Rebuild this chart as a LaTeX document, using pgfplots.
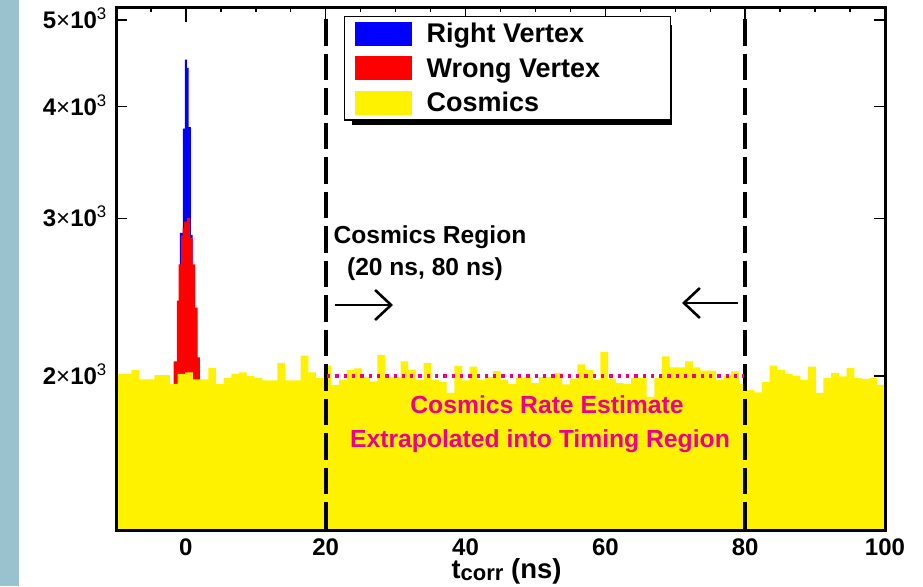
\documentclass[border=0pt]{standalone}
\usepackage{fontspec}
\setmainfont{Liberation Sans}
\usepackage{pgfplots}
\pgfplotsset{compat=1.18}
\usetikzlibrary{arrows.meta}
\definecolor{strip}{RGB}{153,194,206}
\definecolor{cyanline}{RGB}{30,200,200}
\newcommand{\legtext}[1]{\makebox[242pt][l]{\smash{#1}\rule{0pt}{19.4pt}}}
\begin{document}
\begin{tikzpicture}
\useasboundingbox (0,0) rectangle (923pt,586pt);
\fill[white] (0,0) rectangle (923pt,586pt);
\fill[strip] (0,0) rectangle (19pt,586pt);
% axis A: x ticks, x tick labels, x label
\begin{axis}[
  at={(116pt,55pt)}, anchor=south west,
  scale only axis, width=769pt, height=523.5pt,
  xmin=-10, xmax=100, ymin=0, ymax=1,
  ytick=\empty,
  xtick={0,20,40,60,80,100},
  minor xtick={-5,5,10,15,25,30,35,45,50,55,65,70,75,85,90,95},
  tick align=inside,
  major tick length=15pt, minor tick length=5pt,
  tick style={black, line width=1.4pt},
  axis line style={draw=none},
  /pgf/number format/assume math mode=true,
  xticklabel style={font=\fontsize{24}{28}\selectfont\bfseries, inner sep=0pt, yshift=-7pt, text height=17.2pt, text depth=0pt},
  xlabel={{\fontsize{27}{30}\selectfont t}{\fontsize{22}{24}\selectfont\raisebox{-2.5pt}{corr}}\ (ns)},
  xlabel style={font=\fontsize{27.5}{30}\selectfont\bfseries, at={(axis description cs:0.508,0)}, anchor=base, yshift=-47pt, inner sep=0pt, text height=17pt, text depth=4pt},
]
\end{axis}
% legend shadow
\fill[black] (351.7pt,461pt) rectangle (671.7pt,561pt);
% axis B: data
\begin{axis}[
  at={(116pt,55pt)}, anchor=south west,
  scale only axis, width=769pt, height=523.5pt,
  xmin=-10, xmax=100, ymode=log, ymin=1342, ymax=5163,
  xtick=\empty,
  ytick={2000,3000,4000,5000},
  yticklabels={{2{\mdseries ×}10\textsuperscript{\mdseries 3}},{3{\mdseries ×}10\textsuperscript{\mdseries 3}},{4{\mdseries ×}10\textsuperscript{\mdseries 3}},{5{\mdseries ×}10\textsuperscript{\mdseries 3}}},
  yminorticks=false,
  tick align=inside,
  major tick length=11pt,
  tick style={black, line width=1.4pt},
  axis line style={draw=none},
  yticklabel style={font=\fontsize{24}{28}\selectfont\bfseries, inner sep=0pt, xshift=-9pt, text height=17.2pt, text depth=0pt},
  legend image code/.code={\path[fill=none,draw=none] (-10pt,-17.25pt) rectangle (70pt,17.25pt); \fill[#1,draw=none] (0pt,-12pt) rectangle (57pt,12pt);},
  legend style={at={(0.2965,0.9838)}, anchor=north west, draw=black, line width=1.3pt, fill=white, inner sep=0pt, row sep=0pt,
    font=\fontsize{27}{32}\selectfont\bfseries, cells={anchor=west, inner sep=0.5pt}},
]
% Right vertex
\addplot[const plot, fill=blue, draw=none] coordinates {
(-0.86,2890) (-0.43,3780) (-0.14,4514) (0.14,4419) (0.38,3795) (0.71,2875) (0.95,2875)
} \closedcycle;
\addlegendentry{\legtext{Right Vertex}}
% Wrong vertex
\addplot[const plot, fill=red, draw=none] coordinates {
(-1.76,2076) (-1.29,2427) (-1.05,2665) (-0.71,2870) (-0.48,2930) (-0.24,2976) (0.14,3002) (0.62,2852) (0.95,2666) (1.33,2385) (1.67,2098) (2.0,2098)
} \closedcycle;
\addlegendentry{\legtext{Wrong Vertex}}
% Cosmics
\addplot[const plot, fill=yellow, draw=none] coordinates {
(-10,2011) (-8.9,2011) (-7.8,2032) (-6.7,1982) (-5.6,1982) (-4.5,2004) (-3.4,2004) (-2.3,1960) (-1.2,2011) (-0.1,2018)
(1.0,1982) (2.1,1982) (3.2,2040) (4.3,1960) (5.4,1991) (6.5,2011) (7.6,2018) (8.7,1999) (9.8,1991) (10.9,1977)
(12.0,1977) (13.1,2068) (14.2,1977) (15.3,1977) (16.4,2108) (17.5,2018) (18.6,1989) (19.7,2054) (20.8,1955) (21.9,1981)
(23.0,2032) (24.1,2039) (25.2,1994) (26.3,1972) (27.4,2111) (28.5,1994) (29.6,1994) (30.7,2076) (31.8,2032) (32.9,1981)
(34.0,2068) (35.1,1981) (36.2,1969) (37.3,1915) (38.4,2053) (39.5,1977) (40.6,2048) (41.7,1981) (42.8,1994) (43.9,2025)
(45.0,1981) (46.1,1960) (47.2,1991) (48.3,1994) (49.4,1964) (50.5,1994) (51.6,1994) (52.7,2016) (53.8,1957) (54.9,1986)
(56.0,2060) (57.1,2032) (58.2,1981) (59.3,2128) (60.4,1986) (61.5,1964) (62.6,1960) (63.7,1989) (64.8,1989) (65.9,1895)
(67.0,1989) (68.1,2103) (69.2,2045) (70.3,2045) (71.4,2076) (72.5,2045) (73.6,2028) (74.7,2028) (75.8,1981) (76.9,2002)
(78.0,2023) (79.1,1960) (80.2,1929) (81.3,1918) (82.4,1969) (83.5,2054) (84.6,2032) (85.7,2011) (86.8,2002) (87.9,1981)
(89.0,2049) (90.1,1915) (91.2,1989) (92.3,2016) (93.4,1998) (94.5,2040) (95.6,1989) (96.7,1985) (97.8,1989) (98.9,1955)
(100,1955)
} \closedcycle;
\addlegendentry{\legtext{Cosmics}}
% near-zero histogram along the bottom
\addplot[forget plot, cyanline, line width=1.3pt] coordinates {(-10,1348) (10,1348)};
% region boundaries
\addplot[forget plot, black, line width=3.7pt, dash pattern=on 26.5pt off 8pt] coordinates {(20,5010) (20,1300)};
\addplot[forget plot, black, line width=3.7pt, dash pattern=on 26.5pt off 8pt] coordinates {(80,5010) (80,1300)};
% cosmics rate estimate
\addplot[forget plot, magenta, line width=3.3pt, dash pattern=on 3.3pt off 5pt] coordinates {(20.2,2000) (79.8,2000)};
\end{axis}
% annotations
\node[anchor=base, font=\fontsize{24.6}{28}\selectfont\bfseries] at (430pt,342pt) {Cosmics Region};
\node[anchor=base, font=\fontsize{24.6}{28}\selectfont\bfseries] at (425pt,310pt) {(20 ns, 80 ns)};
\draw[line width=2.6pt, -{Straight Barb[length=16pt,width=30pt]}] (335pt,281pt) -- (393pt,281pt);
\draw[line width=2.6pt, -{Straight Barb[length=16pt,width=30pt]}] (738pt,283pt) -- (682pt,283pt);
\node[anchor=base, magenta, font=\fontsize{24.7}{28}\selectfont\bfseries] at (547pt,172.7pt) {Cosmics Rate Estimate};
\node[anchor=base, magenta, font=\fontsize{24.7}{28}\selectfont\bfseries] at (540pt,138.7pt) {Extrapolated into Timing Region};
% frame
\draw[black, line width=3pt] (116pt,55pt) rectangle (885pt,578.5pt);
\end{tikzpicture}
\end{document}
